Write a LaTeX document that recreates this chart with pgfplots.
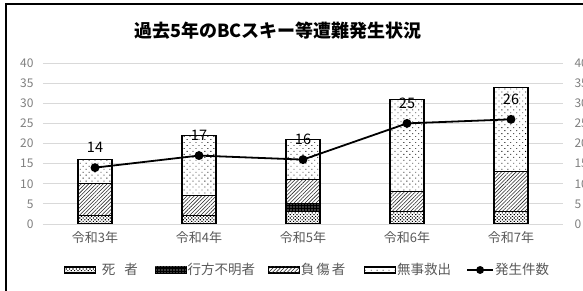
\documentclass[border=0pt]{standalone}
\usepackage{fontspec}
\setmainfont{Noto Sans CJK JP}
\usepackage{pgfplots}
\usepackage{pgfplotstable}
\pgfplotsset{compat=1.18}
\usetikzlibrary{patterns,patterns.meta}

\definecolor{tickgray}{HTML}{7F7F7F}
\definecolor{labgray}{HTML}{595959}
\definecolor{gridgray}{HTML}{D9D9D9}

\pgfplotsset{
  mylinelegend/.style={legend image code/.code={\draw[##1, mark=none] (0pt,0pt) -- (26pt,0pt); \fill[black] (13pt,0pt) circle (3pt);}},
  myboxlegend/.style={legend image code/.code={\draw[##1, line width=0.8pt] (0pt,-3pt) rectangle (31pt,3pt);}},
}

\pgfplotstableread{
x dead missing injured rescued total
0 2 0 8 6 14
1 2 0 5 15 17
2 3 2 6 10 16
3 3 0 5 23 25
4 3 0 10 21 26
}\datatable

\begin{document}
\begin{tikzpicture}[x=1pt,y=1pt]
\useasboundingbox (0,0) rectangle (583,291);
\begin{axis}[
  at={(43pt,67pt)}, anchor=south west,
  scale only axis, width=520pt, height=161pt,
  xmin=-0.5, xmax=4.5, ymin=0, ymax=40,
  ybar stacked, bar width=34pt,
  xtick={0,1,2,3,4},
  xticklabels={令和3年,令和4年,令和5年,令和6年,令和7年},
  ytick={0,5,...,40},
  ymajorgrids, grid style={gridgray, line width=0.9pt},
  axis line style={draw=none},
  major tick length=0pt,
  /pgf/number format/assume math mode=true,
  yticklabel style={font=\fontsize{12}{14}\selectfont, text=tickgray, xshift=-6pt},
  xticklabel style={font=\fontsize{13}{15}\selectfont, text=labgray, yshift=-4pt},
  myboxlegend,
  legend columns=5,
  legend style={at={(0.5077,-0.2857)}, anchor=center, draw=none, fill=none,
    font=\fontsize{13.5}{15}\selectfont, text=labgray,
    /tikz/every even column/.append style={column sep=0pt},
    /tikz/every odd column/.append style={column sep=0pt},
    inner sep=0pt, nodes={inner xsep=1pt, inner ysep=1pt}},
]
\addplot[draw=black, line width=1.1pt, preaction={fill=white}, pattern={Dots[angle=45, distance=2.4pt, radius=0.8pt]}, pattern color=black]
  table[x=x, y=dead]{\datatable};
\addlegendentry{\hspace{5pt}死\hspace{9pt}者\hspace{16pt}\null}
\addplot[draw=black, line width=1.1pt, preaction={fill=black}, pattern={Dots[distance=3pt, radius=0.55pt]}, pattern color=white]
  table[x=x, y=missing]{\datatable};
\addlegendentry{行方不明者\hspace{12pt}\null}
\addplot[draw=black, line width=1.1pt, preaction={fill=white}, pattern={Lines[angle=45, distance=2.6pt, line width=0.55pt]}, pattern color=black!85]
  table[x=x, y=injured]{\datatable};
\addlegendentry{負\hspace{2pt}傷\hspace{2pt}者\hspace{18pt}\null}
\addplot[draw=black, line width=1.1pt, preaction={fill=white}, pattern={Dots[angle=45, distance=4.2pt, radius=0.6pt]}, pattern color=black]
  table[x=x, y=rescued]{\datatable};
\addlegendentry{無事救出\hspace{14pt}\null}
\addlegendimage{mylinelegend, black, line width=1.8pt}
\addlegendentry{発生件数}
\end{axis}
\begin{axis}[
  at={(43pt,67pt)}, anchor=south west,
  scale only axis, width=520pt, height=161pt,
  xmin=-0.5, xmax=4.5, ymin=0, ymax=40,
  axis x line=none, axis y line*=right,
  axis line style={draw=none},
  ytick={0,5,...,40},
  major tick length=0pt,
  /pgf/number format/assume math mode=true,
  yticklabel style={font=\fontsize{12}{14}\selectfont, text=tickgray, xshift=8pt},
]
\addplot[black, line width=1.8pt, mark=*, mark size=3.5pt,
  nodes near coords,
  every node near coord/.append style={font=\fontsize{14.5}{16}\selectfont, text=black, anchor=center, yshift=20pt}]
  table[x=x, y=total]{\datatable};
\end{axis}
\node[font=\fontsize{18}{22}\selectfont\bfseries, text=black] at (278,260.5) {過去5年のBCスキー等遭難発生状況};
\draw[line width=1.6pt, black] (6,-5) -- (6,287) -- (600,287);
\end{tikzpicture}
\end{document}
